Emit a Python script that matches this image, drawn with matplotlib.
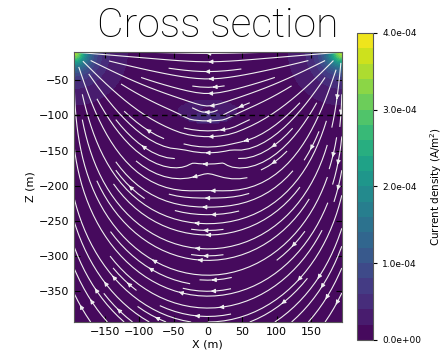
import numpy as np
import matplotlib.pyplot as plt

# model / survey values
x_extent = [-195.0, 195.0]
z_extent = [-394.0, -10.0]
src_pos = [195.0, -10.0]    # electrode A (+), top right corner
snk_pos = [-195.0, -10.0]   # electrode B (-), top left corner
src_strength = 0.12         # I / (2 pi), point sources
cell_smooth = 340.0         # mesh smoothing near the electrodes (m^2)
body_center = [0.0, -135.0]
body_radius = 40.0
body_contrast = 0.65        # deflection strength of the conductive body
halo_center = [0.0, -94.0]
halo_halfwidths = [42.0, 17.0]
halo_gain = 6.0             # current density boost in the halo
profile_depth = -100.0
cb_ticks = [0.0, 1e-4, 2e-4, 3e-4, 4e-4]
n_levels = 20

x = np.linspace(x_extent[0], x_extent[1], 140)
z = np.linspace(z_extent[0], z_extent[1], 140)
X, Z = np.meshgrid(x, z)


def point_source(px, pz, xx, zz):
    dx = xx - px
    dz = zz - pz
    r = np.sqrt(dx**2 + dz**2) + 1e-9
    amp = 1.0 / (r**2 + cell_smooth)
    return amp * dx / r, amp * dz / r


# background current density: source + sink at the surface
ax_, az_ = point_source(src_pos[0], src_pos[1], X, Z)
bx_, bz_ = point_source(snk_pos[0], snk_pos[1], X, Z)
Jx = src_strength * (ax_ - bx_)
Jz = src_strength * (az_ - bz_)

# field at the body center
cax, caz = point_source(src_pos[0], src_pos[1], body_center[0], body_center[1])
cbx, cbz = point_source(snk_pos[0], snk_pos[1], body_center[0], body_center[1])
E0x = src_strength * (cax - cbx)
E0z = src_strength * (caz - cbz)

dx = X - body_center[0]
dz = Z - body_center[1]
d2 = dx**2 + dz**2
inside = d2 < body_radius**2
k = body_contrast
a2 = body_radius**2
edot = E0x * dx + E0z * dz
px = -k * a2 * (E0x / d2 - 2 * edot * dx / d2**2)
pz = -k * a2 * (E0z / d2 - 2 * edot * dz / d2**2)
Jx = np.where(inside, (1 + k) * Jx, Jx + px)
Jz = np.where(inside, (1 + k) * Jz, Jz + pz)

Jmag = np.hypot(Jx, Jz)
halo = (((X - halo_center[0]) / halo_halfwidths[0])**2
        + ((Z - halo_center[1]) / halo_halfwidths[1])**2) < 1
Jmag = np.where(halo, Jmag * halo_gain, Jmag)
Jmag = np.clip(Jmag, 0, 3.99e-4)

fig = plt.figure(figsize=(4.48, 3.57), dpi=100)
ax = fig.add_axes([0.165, 0.098, 0.598, 0.756])
cax_ = fig.add_axes([0.797, 0.048, 0.036, 0.86])

levels = np.linspace(0, 4e-4, n_levels + 1)
cf = ax.contourf(X, Z, Jmag, levels=levels, cmap='viridis')
ax.streamplot(x, z, Jx, Jz, color='#f0f0f0', density=1.1, linewidth=0.8,
              arrowsize=0.6)
ax.axhline(profile_depth, color='k', ls='--', lw=1, dashes=(4, 3))

ax.set_xlim(x_extent)
ax.set_ylim(z_extent)
ax.set_xticks([-150, -100, -50, 0, 50, 100, 150])
ax.set_yticks([-350, -300, -250, -200, -150, -100, -50])
ax.tick_params(direction='in', top=True, right=True, labelsize=8, length=4)
ax.set_xlabel('X (m)', fontsize=8, labelpad=2)
ax.set_ylabel('Z (m)', fontsize=8, labelpad=2)
for s in ax.spines.values():
    s.set_color('0.35')

cb = fig.colorbar(cf, cax=cax_, ticks=cb_ticks, format='%.1e')
cb.ax.tick_params(labelsize=6.5, length=3)
cb.outline.set_edgecolor('0.35')
cb.set_label('Current density (A/m$^2$)', fontsize=7.5, labelpad=5)

fig.text(0.487, 0.896, 'Cross section', fontsize=29.5, ha='center',
         va='baseline', family='Roboto', fontweight='light')

fig.savefig('out.png', dpi=100)
